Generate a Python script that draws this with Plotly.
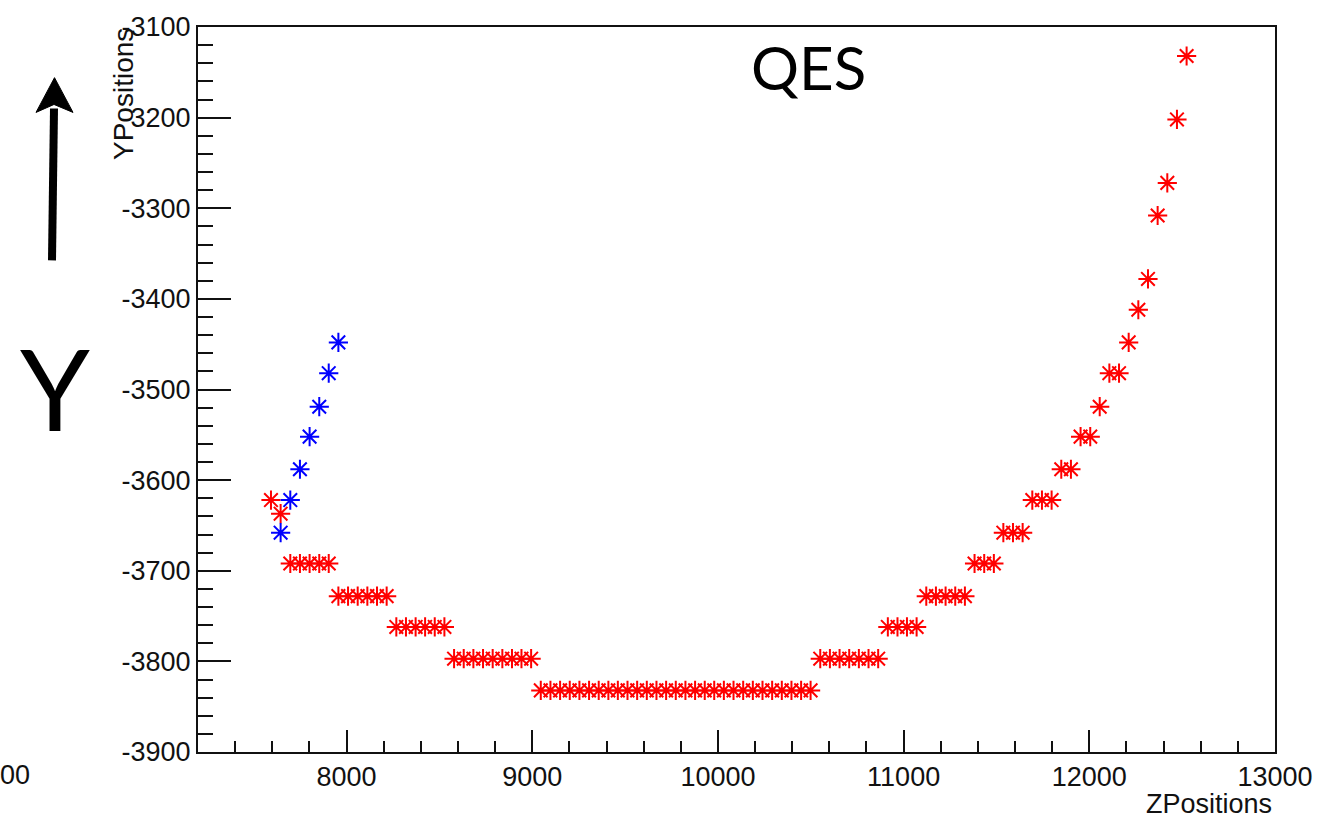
import plotly.graph_objects as go

# Track samples: Z position along the beam and Y position of each step
red_z = [7593, 7645,
         7697, 7749, 7801, 7853, 7904,
         7956, 8008, 8060, 8112, 8164, 8216,
         8268, 8320, 8372, 8423, 8475, 8527,
         8579, 8631, 8683, 8735, 8787, 8839, 8891, 8942, 8994,
         9046, 9098, 9150, 9202, 9254, 9306, 9358, 9410, 9461, 9513,
         9565, 9617, 9669, 9721, 9773, 9825, 9877, 9929, 9980, 10032,
         10084, 10136, 10188, 10240, 10292, 10344, 10396, 10448, 10499,
         10551, 10603, 10655, 10707, 10759, 10811, 10863,
         10915, 10967, 11018, 11070,
         11122, 11174, 11226, 11278, 11330,
         11382, 11434, 11486,
         11537, 11589, 11641,
         11693, 11745, 11797,
         11849, 11901,
         11953, 12005,
         12056,
         12108, 12160,
         12212, 12264, 12316, 12368, 12420, 12472, 12524]
red_y = [-3622, -3637,
         -3692, -3692, -3692, -3692, -3692,
         -3728, -3728, -3728, -3728, -3728, -3728,
         -3762, -3762, -3762, -3762, -3762, -3762,
         -3797, -3797, -3797, -3797, -3797, -3797, -3797, -3797, -3797,
         -3832, -3832, -3832, -3832, -3832, -3832, -3832, -3832, -3832, -3832,
         -3832, -3832, -3832, -3832, -3832, -3832, -3832, -3832, -3832, -3832,
         -3832, -3832, -3832, -3832, -3832, -3832, -3832, -3832, -3832,
         -3797, -3797, -3797, -3797, -3797, -3797, -3797,
         -3762, -3762, -3762, -3762,
         -3728, -3728, -3728, -3728, -3728,
         -3692, -3692, -3692,
         -3658, -3658, -3658,
         -3622, -3622, -3622,
         -3588, -3588,
         -3552, -3552,
         -3519,
         -3482, -3482,
         -3448, -3412, -3378, -3308, -3272, -3202, -3132]

blue_z = [7645, 7697, 7749, 7801, 7853, 7904, 7956]
blue_y = [-3658, -3622, -3588, -3552, -3519, -3482, -3448]

x_range = [7200, 13000]
y_range = [-3900, -3100]

x_ticks = [8000, 9000, 10000, 11000, 12000, 13000]
x_tick_labels = ["8000", "9000", "10000", "11000", "12000", "13000"]
y_ticks = [-3900, -3800, -3700, -3600, -3500, -3400, -3300, -3200, -3100]
y_tick_labels = ["-3900", "-3800", "-3700", "-3600", "-3500", "-3400",
                 "-3300", "-3200", "-3100"]

W, H = 1336, 820
ML, MR, MT, MB = 198, 61, 22, 68
PW, PH = W - ML - MR, H - MT - MB


def px(x):
    return (x - ML) / PW


def py(y):
    return (H - MB - y) / PH


fig = go.Figure()
fig.add_trace(go.Scatter(
    x=red_z, y=red_y, mode="markers",
    marker=dict(symbol="asterisk-open", size=16, color="#ff0000",
                line=dict(color="#ff0000", width=2)),
    showlegend=False, hoverinfo="x+y"))
fig.add_trace(go.Scatter(
    x=blue_z, y=blue_y, mode="markers",
    marker=dict(symbol="asterisk-open", size=16, color="#0000ff",
                line=dict(color="#0000ff", width=2)),
    showlegend=False, hoverinfo="x+y"))

tick_font = dict(family="Liberation Sans, Arial, sans-serif", size=27, color="#111")

fig.update_xaxes(
    range=x_range, tickmode="array", tickvals=x_ticks, ticktext=x_tick_labels,
    ticks="inside", ticklen=22, tickwidth=2,
    tickcolor="#111", showline=True, linewidth=2, linecolor="#111", mirror=True,
    showgrid=False, zeroline=False, tickfont=tick_font,
    minor=dict(tick0=0, dtick=200, ticks="inside", ticklen=11, tickwidth=2,
               tickcolor="#111", showgrid=False))
fig.update_yaxes(
    range=y_range, tickmode="array", tickvals=y_ticks, ticktext=y_tick_labels,
    ticks="inside", ticklen=33, tickwidth=2,
    tickcolor="#111", showline=True, linewidth=2, linecolor="#111", mirror=True,
    showgrid=False, zeroline=False, tickfont=tick_font,
    minor=dict(tick0=0, dtick=20, ticks="inside", ticklen=15, tickwidth=2,
               tickcolor="#111", showgrid=False))

annotations = [
    dict(text="ZPositions", x=px(1274), y=py(804), xref="paper", yref="paper",
         xanchor="right", yanchor="middle", showarrow=False,
         font=dict(family="Liberation Sans, Arial, sans-serif", size=27, color="#111")),
    dict(text="YPositions", x=px(123), y=py(21), xref="paper", yref="paper",
         xanchor="center", yanchor="top", textangle=-90, showarrow=False,
         font=dict(family="Liberation Sans, Arial, sans-serif", size=28, color="#111")),
    dict(text="QES", x=px(809), y=py(62), xref="paper", yref="paper",
         xanchor="center", yanchor="middle", showarrow=False,
         font=dict(family="Lato, sans-serif", size=60, color="#000")),
    dict(text="Y", x=px(55), y=py(385), xref="paper", yref="paper",
         xanchor="center", yanchor="middle", showarrow=False,
         font=dict(family="Lato, sans-serif", size=112, color="#000")),
    dict(text="00", x=px(-2), y=py(775), xref="paper", yref="paper",
         xanchor="left", yanchor="middle", showarrow=False, font=tick_font),
]

shapes = [
    # arrow shaft
    dict(type="line", xref="paper", yref="paper",
         x0=px(52), y0=py(257), x1=px(54), y1=py(104),
         line=dict(color="#000", width=8)),
    # arrow head
    dict(type="path", xref="paper", yref="paper",
         path=f"M {px(36)} {py(108)} L {px(54.5)} {py(73)} L {px(73)} {py(108)} "
              f"L {px(54)} {py(100)} Z",
         fillcolor="#000", line=dict(color="#000", width=1)),
]

fig.update_layout(
    width=W, height=H,
    margin=dict(l=ML, r=MR, t=MT, b=MB, pad=0),
    paper_bgcolor="white", plot_bgcolor="white",
    annotations=annotations, shapes=shapes,
)

fig.write_html("out.html")
